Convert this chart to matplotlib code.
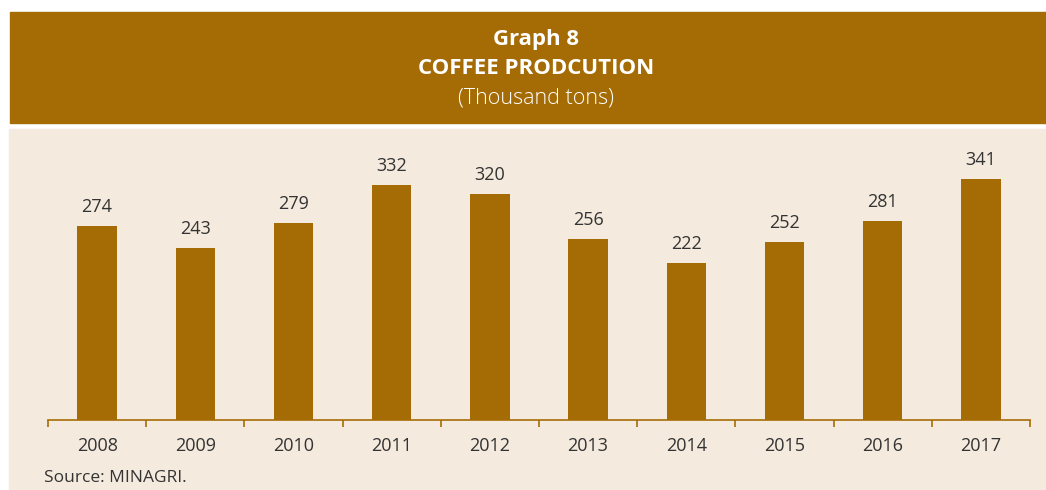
import matplotlib.pyplot as plt
from matplotlib.patches import Rectangle

years = ['2008', '2009', '2010', '2011', '2012', '2013', '2014', '2015', '2016', '2017']
production = [274, 243, 279, 332, 320, 256, 222, 252, 281, 341]

brown = '#A56C05'
beige = '#F4EADE'
txt = '#333333'

plt.rcParams['font.family'] = ['Open Sans', 'DejaVu Sans']

W, H = 1046, 490
fig = plt.figure(figsize=(W / 100, H / 100), dpi=100)
fig.patch.set_facecolor('white')

# header band and panel background
fig.add_artist(Rectangle((10 / W, 1 - 123 / H), (W - 10) / W, 111 / H,
                         transform=fig.transFigure, color=brown, zorder=0))
fig.add_artist(Rectangle((9 / W, 0), (W - 9) / W, 1 - 129 / H,
                         transform=fig.transFigure, color=beige, zorder=0))

fig.text(536 / W, 1 - 40 / H, 'Graph 8', ha='center', va='center',
         color='white', fontsize=16, fontweight='bold')
fig.text(536 / W, 1 - 68 / H, 'COFFEE PRODCUTION', ha='center', va='center',
         color='white', fontsize=16, fontweight='bold')
fig.text(536 / W, 1 - 98 / H, '(Thousand tons)', ha='center', va='center',
         color='white', fontsize=15.5, fontweight='light')

# axes: x 48..1030, baseline at y=420, 0.707 px per unit
ymax = 400
ax_h = ymax * 0.707
ax = fig.add_axes([48 / W, 1 - 420 / H, (1030 - 48) / W, ax_h / H])
ax.set_facecolor('none')

x = range(len(years))
bars = ax.bar(x, production, width=0.4, color=brown, zorder=2)
for i, v in enumerate(production):
    ax.text(i, v + 14, str(v), ha='center', va='bottom', fontsize=13, color=txt)

ax.set_xlim(-0.5, len(years) - 0.5)
ax.set_ylim(0, ymax)
ax.set_yticks([])
ax.set_xticks([i + 0.5 for i in range(-1, len(years))], minor=False)
ax.set_xticklabels([])
ax.tick_params(axis='x', which='major', length=5, color=brown, width=1.2)
ax.set_xticks(list(x), minor=True)
ax.set_xticklabels(years, minor=True)
ax.tick_params(axis='x', which='minor', length=0, pad=12, labelsize=13, labelcolor=txt)
for s in ['top', 'right', 'left']:
    ax.spines[s].set_visible(False)
ax.spines['bottom'].set_color(brown)
ax.spines['bottom'].set_linewidth(1.2)

fig.text(44 / W, 1 - 478 / H, 'Source: MINAGRI.', ha='left', va='center',
         fontsize=12.5, color=txt)

fig.savefig('out.png', dpi=100)
